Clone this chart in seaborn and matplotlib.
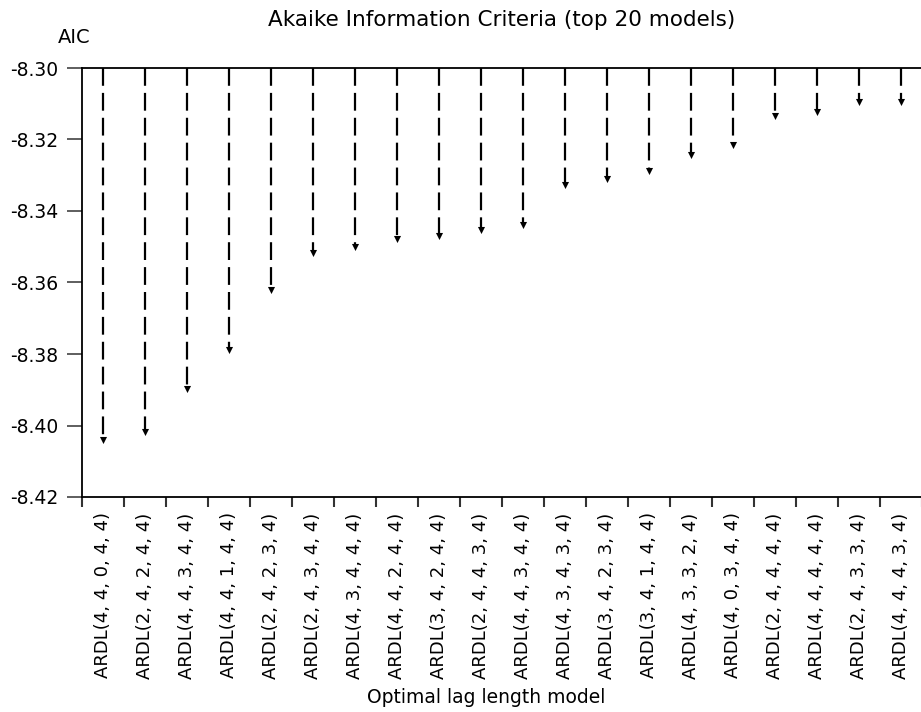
import matplotlib
matplotlib.use("Agg")
import matplotlib.pyplot as plt
import numpy as np
import pandas as pd
import seaborn as sns

# Top 20 ARDL specifications ranked by Akaike Information Criterion
models = [
    "ARDL(4, 4, 0, 4, 4)", "ARDL(2, 4, 2, 4, 4)", "ARDL(4, 4, 3, 4, 4)",
    "ARDL(4, 4, 1, 4, 4)", "ARDL(2, 4, 2, 3, 4)", "ARDL(2, 4, 3, 4, 4)",
    "ARDL(4, 3, 4, 4, 4)", "ARDL(4, 4, 2, 4, 4)", "ARDL(3, 4, 2, 4, 4)",
    "ARDL(2, 4, 4, 3, 4)", "ARDL(4, 4, 3, 4, 4)", "ARDL(4, 3, 4, 3, 4)",
    "ARDL(3, 4, 2, 3, 4)", "ARDL(3, 4, 1, 4, 4)", "ARDL(4, 3, 3, 2, 4)",
    "ARDL(4, 0, 3, 4, 4)", "ARDL(2, 4, 4, 4, 4)", "ARDL(4, 4, 4, 4, 4)",
    "ARDL(2, 4, 3, 3, 4)", "ARDL(4, 4, 4, 3, 4)",
]
aic = [
    -8.4041, -8.4019, -8.3899, -8.3789, -8.3621, -8.3517, -8.3502,
    -8.3478, -8.3469, -8.3453, -8.3439, -8.3327, -8.3311, -8.3288,
    -8.3243, -8.3215, -8.3133, -8.3124, -8.3094, -8.3095,
]
y_ticks = [-8.42, -8.40, -8.38, -8.36, -8.34, -8.32, -8.30]
y_top = -8.30
y_bottom = -8.42

# Rank position is kept separately because some model labels repeat
df = pd.DataFrame({"rank": np.arange(len(models)), "model": models, "aic": aic})

sns.set_theme(style="white")
plt.rcParams["font.family"] = ["DejaVu Sans"]
plt.rcParams["text.color"] = "black"
plt.rcParams["xtick.color"] = "black"
plt.rcParams["ytick.color"] = "black"
plt.rcParams["axes.labelcolor"] = "black"

fig = plt.figure(figsize=(9.21, 7.12), dpi=100)
ax = fig.add_axes([82 / 921, 1 - 497 / 712, 840 / 921, (497 - 68) / 712])

# Drop lines from the top of the frame down to each model's AIC
ax.vlines(df["rank"], y_top, df["aic"], colors="black",
          linestyles=(0, (8, 3.2)), linewidth=1.6, zorder=2)
sns.scatterplot(data=df, x="rank", y="aic", ax=ax, marker="v", s=26,
                color="black", linewidth=0, zorder=3, legend=False)

ax.set_xlim(-0.5, len(df) - 0.5)
ax.set_ylim(y_bottom, y_top)
ax.set_yticks(y_ticks)
ax.set_yticklabels([f"{v:.2f}" for v in y_ticks])

ax.set_xticks(df["rank"])
ax.set_xticklabels(df["model"], rotation=90, fontsize=13)
ax.set_xticks(np.arange(-0.5, len(df), 1.0), minor=True)
ax.tick_params(axis="x", which="major", length=0, pad=11)
ax.tick_params(axis="x", which="minor", length=7, width=1.5,
               direction="out", color="#333333", bottom=True)
ax.tick_params(axis="y", which="major", length=11, width=1.1,
               direction="out", color="#333333", left=True, labelsize=13.5,
               pad=6)

for side in ("left", "top", "bottom"):
    ax.spines[side].set_visible(True)
    ax.spines[side].set_color("black")
    ax.spines[side].set_linewidth(1.3)
ax.spines["right"].set_visible(False)

ax.set_title("Akaike Information Criteria (top 20 models)", fontsize=15.5,
             pad=30, color="black")
ax.set_xlabel("Optimal lag length model", fontsize=13.5)
ax.xaxis.set_label_coords((486 - 82) / 840, -(688 - 497) / 429)
ax.set_ylabel("AIC", rotation=0, fontsize=14)
ax.yaxis.set_label_coords((74 - 82) / 840, 1 + (68 - 47) / 429)

fig.savefig("out.png", dpi=100)
